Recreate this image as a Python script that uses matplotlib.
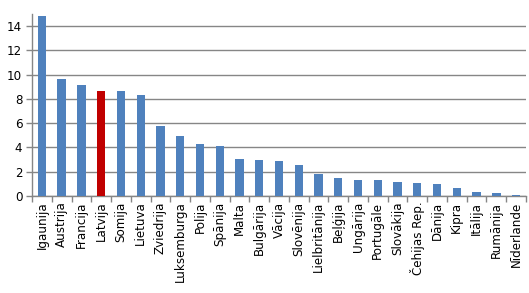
import matplotlib
matplotlib.use("Agg")
import matplotlib.pyplot as plt
import numpy as np

valstis = ["Igaunija", "Austrija", "Francija", "Latvija", "Somija", "Lietuva",
           "Zviedrija", "Luksemburga", "Polija", "Spānija", "Malta", "Bulgārija",
           "Vācija", "Slovēnija", "Lielbritānija", "Beļģija", "Ungārija",
           "Portugāle", "Slovākija", "Čehijas Rep.", "Dānija", "Kipra",
           "Itālija", "Rumānija", "Nīderlande"]
vertibas = [14.85, 9.65, 9.15, 8.65, 8.65, 8.35, 5.8, 4.95, 4.3, 4.15, 3.05, 2.98,
            2.9, 2.55, 1.82, 1.5, 1.35, 1.35, 1.17, 1.08, 1.0, 0.68, 0.33, 0.25, 0.08]
izcelt = "Latvija"

krasas = ["#C00000" if v == izcelt else "#4F81BD" for v in valstis]
pel = "#868686"

fig = plt.figure(figsize=(5.29, 2.93), dpi=100)
ax = fig.add_axes([32 / 529, 1 - 196 / 293, 494 / 529, 182 / 293])

x = np.arange(len(valstis))
ax.bar(x, vertibas, width=0.42, color=krasas, zorder=3)

ax.set_xlim(-0.5, len(valstis) - 0.5)
ax.set_ylim(0, 15)
ax.set_yticks(range(0, 15, 2))
ax.yaxis.grid(True, color=pel, linewidth=1)
ax.set_axisbelow(True)

# ticks between categories, labels centred under bars
ax.set_xticks(np.arange(-0.5, len(valstis), 1))
ax.set_xticklabels([])
ax.set_xticks(x, minor=True)
ax.set_xticklabels(valstis, minor=True, rotation=90, fontsize=8.6)
ax.tick_params(axis="x", which="major", length=4, color=pel, width=1)
ax.tick_params(axis="x", which="minor", length=0, pad=4)
ax.tick_params(axis="y", length=4, color=pel, width=1, labelsize=8.6, pad=3)

for s in ["top", "right"]:
    ax.spines[s].set_visible(False)
for s in ["left", "bottom"]:
    ax.spines[s].set_color(pel)
    ax.spines[s].set_linewidth(1)

fig.savefig("out.png", dpi=100)
